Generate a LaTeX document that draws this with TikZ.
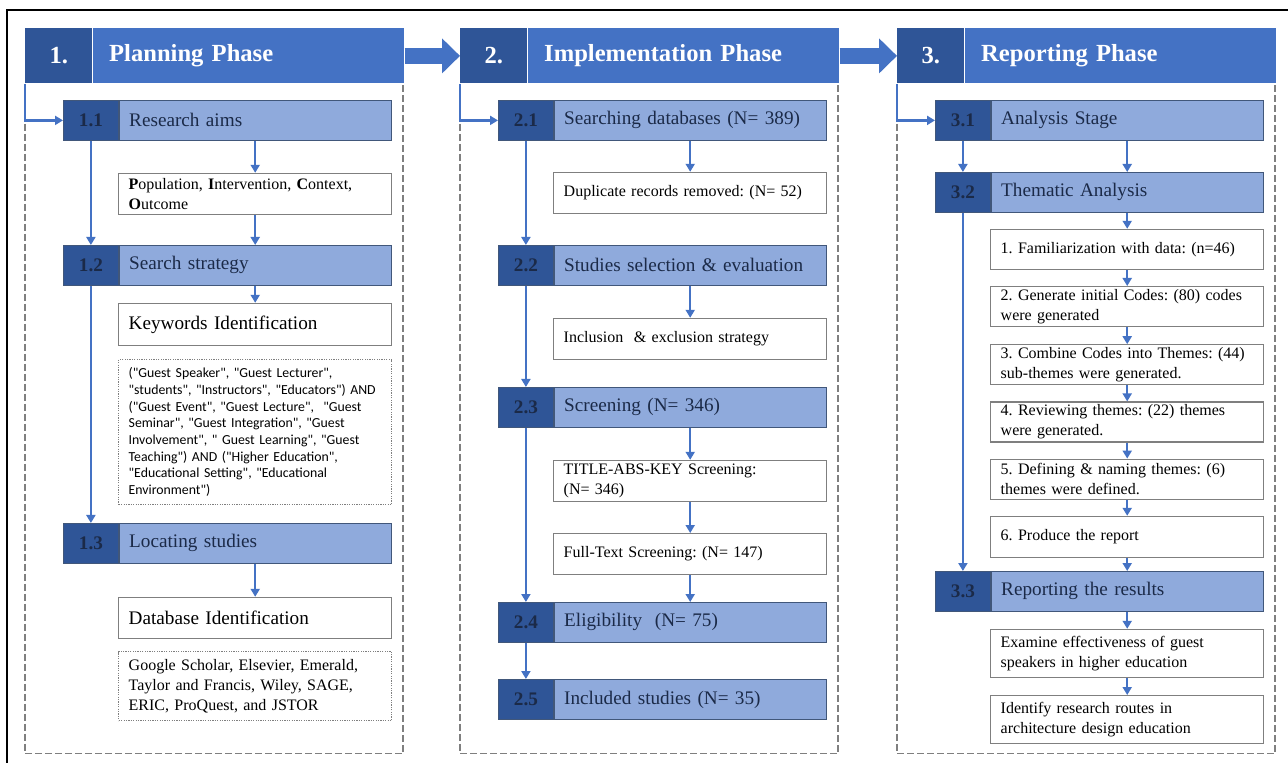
\documentclass[tikz,border=0pt]{standalone}
\usepackage{fontspec}
\setmainfont{Liberation Serif}
\newfontfamily\kwfont{Carlito}
\usetikzlibrary{positioning}
\usetikzlibrary{arrows.meta}
\definecolor{phaseblue}{HTML}{4472C4}
\definecolor{phasedark}{HTML}{2F5597}
\definecolor{steplight}{HTML}{8FAADC}
\definecolor{stepline}{HTML}{41577A}
\definecolor{boxgray}{HTML}{7F7F7F}
\definecolor{numtext}{HTML}{1B2A48}
\frenchspacing

\begin{document}
\begin{tikzpicture}[
x=0.5pt, y=-0.5pt,
phasenum/.style={fill=phasedark, text=white, font=\bfseries\fontsize{12.3}{14}\selectfont, minimum width=33.5pt, minimum height=27.5pt, inner sep=0pt, anchor=north west},
phasetitle/.style={fill=phaseblue, text=white, font=\bfseries\fontsize{12.3}{14}\selectfont, minimum height=27.5pt, text width=139.5pt, inner xsep=8pt, inner ysep=0pt, align=left},
stepnum/.style={fill=phasedark, draw=stepline, line width=0.4pt, text=numtext, font=\bfseries\fontsize{9.6}{11}\selectfont, minimum width=27.5pt, minimum height=20pt, inner sep=0pt, anchor=north west},
steptitle/.style={fill=steplight, draw=stepline, line width=0.4pt, text=numtext, font=\fontsize{9.6}{11}\selectfont, minimum height=20pt, text width=126pt, inner xsep=5pt, inner ysep=0pt, align=left},
box/.style={draw=boxgray, line width=0.6pt, fill=white, minimum height=20.5pt, text width=126.5pt, inner xsep=5pt, inner ysep=0pt, align=left, font=\fontsize{8}{10}\selectfont},
dotbox/.style={box, dash pattern=on 0.6pt off 0.6pt},
flow/.style={draw=phaseblue, line width=1.2pt, -{Triangle[length=4pt,width=4.5pt]}},
bigarrow/.style={draw=phaseblue, line width=8pt, -{Triangle[length=9pt,width=17pt]}},
phaseframe/.style={draw=boxgray, line width=0.6pt, dash pattern=on 3.5pt off 1.5pt},
]
\fill[white] (0,0) rectangle (1288,763);
\useasboundingbox (0,0) rectangle (1288,763);
\draw[black, line width=0.6pt] (7,763) -- (7,10) -- (1288,10);

%Phase headers
\node[phasenum] (p1n) at (25,28) {1.};
\node[phasetitle] (p1) [right=0pt of p1n] {Planning Phase};
\node[phasenum] (p2n) at (460,28) {2.};
\node[phasetitle] (p2) [right=0pt of p2n] {Implementation Phase};
\node[phasenum] (p3n) at (897,28) {3.};
\node[phasetitle] (p3) [right=0pt of p3n] {Reporting Phase};

%Frames
\draw[phaseframe] (p1n.south west) -- ++(0,670) -- ++(378,0) -- ++(0,-670);
\draw[phaseframe] (p2n.south west) -- ++(0,670) -- ++(378,0) -- ++(0,-670);
\draw[phaseframe] (p3n.south west) -- ++(0,670) -- ++(378,0) -- ++(0,-670);

%Planning phase
\node[stepnum] (s11n) at (63,100) {1.1};
\node[steptitle] (s11) [right=0pt of s11n] {Research aims};
\node[box] (b11) [below=16pt of s11] {\textbf{P}opulation, \textbf{I}ntervention, \textbf{C}ontext,\\\textbf{O}utcome};
\node[stepnum] (s12n) at (63,245) {1.2};
\node[steptitle] (s12) [right=0pt of s12n] {Search strategy};
\node[box, minimum height=21pt, font=\fontsize{9.6}{11}\selectfont] (b12) [below=8.5pt of s12] {Keywords Identification};
\node[dotbox, minimum height=72.5pt, font=\kwfont\fontsize{6.9}{8.35}\selectfont] (k12) [below=6.5pt of b12] {("Guest Speaker", "Guest Lecturer",\\
"students", "Instructors", "Educators") AND\\
("Guest Event", "Guest Lecture", \ "Guest\\
Seminar", "Guest Integration", "Guest\\
Involvement", " Guest Learning", "Guest\\
Teaching") AND ("Higher Education",\\
"Educational Setting", "Educational\\
Environment")};
\node[stepnum] (s13n) at (63,523) {1.3};
\node[steptitle] (s13) [right=0pt of s13n] {Locating studies};
\node[box, font=\fontsize{9.6}{11}\selectfont] (b13) [below=16.5pt of s13] {Database Identification};
\node[dotbox, minimum height=34.5pt] (d13) [below=6pt of b13] {Google Scholar, Elsevier, Emerald,\\Taylor and Francis, Wiley, SAGE,\\ERIC, ProQuest, and JSTOR};

%Implementation phase
\node[stepnum] (s21n) at (498,100) {2.1};
\node[steptitle] (s21) [right=0pt of s21n] {Searching databases (N= 389)};
\node[box] (b21) [below=15.5pt of s21] {Duplicate records removed: (N= 52)};
\node[stepnum] (s22n) at (498,245) {2.2};
\node[steptitle] (s22) [right=0pt of s22n] {Studies selection \& evaluation};
\node[box] (b22) [below=16pt of s22] {Inclusion \ \& exclusion strategy};
\node[stepnum] (s23n) at (498,387) {2.3};
\node[steptitle] (s23) [right=0pt of s23n] {Screening (N= 346)};
\node[box] (b23) [below=16pt of s23] {TITLE-ABS-KEY Screening:\\(N= 346)};
\node[box] (f23) [below=15.5pt of b23] {Full-Text Screening: (N= 147)};
\node[stepnum] (s24n) at (498,602) {2.4};
\node[steptitle] (s24) [right=0pt of s24n] {Eligibility \ (N= 75)};
\node[stepnum] (s25n) at (498,679) {2.5};
\node[steptitle] (s25) [right=0pt of s25n] {Included studies (N= 35)};

%Reporting phase
\node[stepnum] (s31n) at (935,100) {3.1};
\node[steptitle] (s31) [right=0pt of s31n] {Analysis Stage};
\node[stepnum] (s32n) at (935,172) {3.2};
\node[steptitle] (s32) [right=0pt of s32n] {Thematic Analysis};
\node[box, minimum height=20pt] (c1) [below=8pt of s32] {1. Familiarization with data: (n=46)};
\node[box, minimum height=20pt] (c2) [below=8pt of c1] {2. Generate initial Codes: (80) codes\\were generated};
\node[box, minimum height=20pt] (c3) [below=8.5pt of c2] {3. Combine Codes into Themes: (44)\\sub-themes were generated.};
\node[box, minimum height=20pt] (c4) [below=8pt of c3] {4. Reviewing themes: (22) themes\\were generated.};
\node[box, minimum height=20pt] (c5) [below=8pt of c4] {5. Defining \& naming themes: (6)\\themes were defined.};
\node[box] (c6) [below=8pt of c5] {6. Produce the report};
\node[stepnum] (s33n) at (935,571) {3.3};
\node[steptitle] (s33) [right=0pt of s33n] {Reporting the results};
\node[box, minimum height=24pt] (r1) [below=8.5pt of s33] {Examine effectiveness of guest\\speakers in higher education};
\node[box, minimum height=24pt] (r2) [below=8.5pt of r1] {Identify research routes in\\architecture design education};

%Lines
\draw[bigarrow] (p1.east) -- (p2n.west);
\draw[bigarrow] (p2.east) -- (p3n.west);

\draw[flow] (p1n.south west) |- (s11n.west);
\draw[flow] (s11.south) -- (b11.north);
\draw[flow] (b11.south) -- (s12.north);
\draw[flow] (s11n.south) -- (s12n.north);
\draw[flow] (s12.south) -- (b12.north);
\draw[flow] (s12n.south) -- (s13n.north);
\draw[flow] (s13.south) -- (b13.north);

\draw[flow] (p2n.south west) |- (s21n.west);
\draw[flow] (s21.south) -- (b21.north);
\draw[flow] (s21n.south) -- (s22n.north);
\draw[flow] (s22.south) -- (b22.north);
\draw[flow] (s22n.south) -- (s23n.north);
\draw[flow] (s23.south) -- (b23.north);
\draw[flow] (b23.south) -- (f23.north);
\draw[flow] (f23.south) -- (s24.north);
\draw[flow] (s23n.south) -- (s24n.north);
\draw[flow] (s24n.south) -- (s25n.north);

\draw[flow] (p3n.south west) |- (s31n.west);
\draw[flow] (s31n.south) -- (s32n.north);
\draw[flow] (s31.south) -- (s32.north);
\draw[flow] (s32.south) -- (c1.north);
\draw[flow] (c1.south) -- (c2.north);
\draw[flow] (c2.south) -- (c3.north);
\draw[flow] (c3.south) -- (c4.north);
\draw[flow] (c4.south) -- (c5.north);
\draw[flow] (c5.south) -- (c6.north);
\draw[flow] (c6.south) -- (s33.north);
\draw[flow] (s32n.south) -- (s33n.north);
\draw[flow] (s33.south) -- (r1.north);
\draw[flow] (r1.south) -- (r2.north);
\end{tikzpicture}
\end{document}
